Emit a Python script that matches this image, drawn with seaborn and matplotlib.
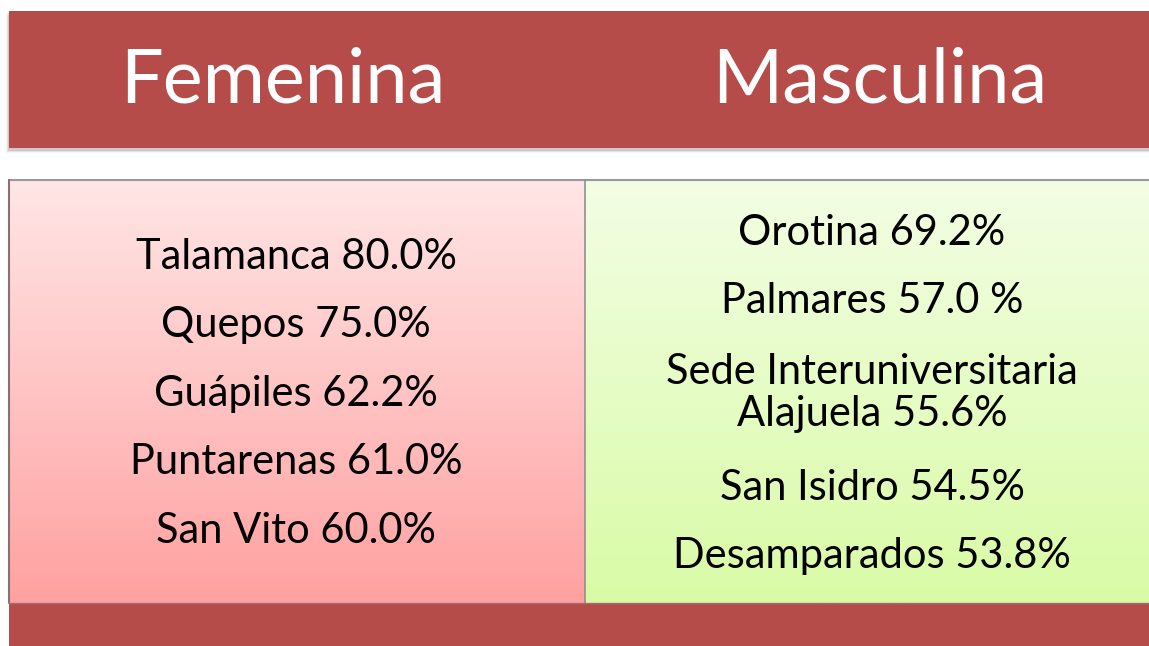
import matplotlib.pyplot as plt
import matplotlib.patches as mpatches
import seaborn as sns
import numpy as np

# headers
header_fem = 'Femenina'
header_masc = 'Masculina'

# sedes y porcentajes
fem_sedes = ['Talamanca', 'Quepos', 'Guápiles', 'Puntarenas', 'San Vito']
fem_pct = ['80.0%', '75.0%', '62.2%', '61.0%', '60.0%']
masc_sedes = ['Orotina', 'Palmares', 'Sede Interuniversitaria\nAlajuela', 'San Isidro', 'Desamparados']
masc_pct = ['69.2%', '57.0 %', '55.6%', '54.5%', '53.8%']

sns.set_theme(style='white')
plt.rcParams['font.family'] = ['Lato', 'DejaVu Sans']

fig = plt.figure(figsize=(11.49, 6.46), dpi=100)
ax = fig.add_axes([0, 0, 1, 1])
ax.set_xlim(0, 1149)
ax.set_ylim(646, 0)
ax.axis('off')

red = '#B64C4A'

# top banner with soft shadow
for i, a in enumerate([0.10, 0.07, 0.04]):
    ax.add_patch(mpatches.Rectangle((9 - 1 - i, 11 + 2 + i), 1145, 137 + 1, color='black', alpha=a, lw=0))
ax.add_patch(mpatches.Rectangle((9, 11), 1145, 137, color=red, lw=0))

# gradient panels
def grad(x0, x1, y0, y1, top, bottom):
    t = np.linspace(0, 1, 256)[:, None, None]
    c0 = np.array(plt.matplotlib.colors.to_rgb(top))
    c1 = np.array(plt.matplotlib.colors.to_rgb(bottom))
    img = c0 * (1 - t) + c1 * t
    ax.imshow(img, extent=[x0, x1, y1, y0], aspect='auto', zorder=1)

grad(9, 585, 180, 603, '#FFE6E6', '#FFA1A1')
grad(585, 1149, 180, 603, '#F3FEE4', '#D9FBA6')
ax.plot([9, 1149], [180, 180], color='#9A9A9A', lw=1.5, zorder=2)
ax.plot([9, 9], [180, 603], color='#8A7070', lw=1.5, zorder=2)
ax.plot([585, 585], [180, 603], color='#909090', lw=1.2, zorder=2)

# bottom bar
ax.add_patch(mpatches.Rectangle((9, 603), 1145, 50, color=red, lw=0, zorder=2))
ax.plot([9, 1149], [603, 603], color='#A07070', lw=1, zorder=3)

ax.text(283, 81, header_fem, color='white', fontsize=54.5, ha='center', va='center')
ax.text(880, 81, header_masc, color='white', fontsize=54.5, ha='center', va='center')

for i, (s, p) in enumerate(zip(fem_sedes, fem_pct)):
    ax.text(296, 257 + i * 68.5, f'{s} {p}', fontsize=30, ha='center', va='center', color='black', zorder=4)

masc_y = [233, 301, 393, 488, 556]
for y, s, p in zip(masc_y, masc_sedes, masc_pct):
    ax.text(872, y, f'{s} {p}', fontsize=30, ha='center', va='center', color='black',
            linespacing=1.13, zorder=4)

plt.savefig('out.png', dpi=100)
